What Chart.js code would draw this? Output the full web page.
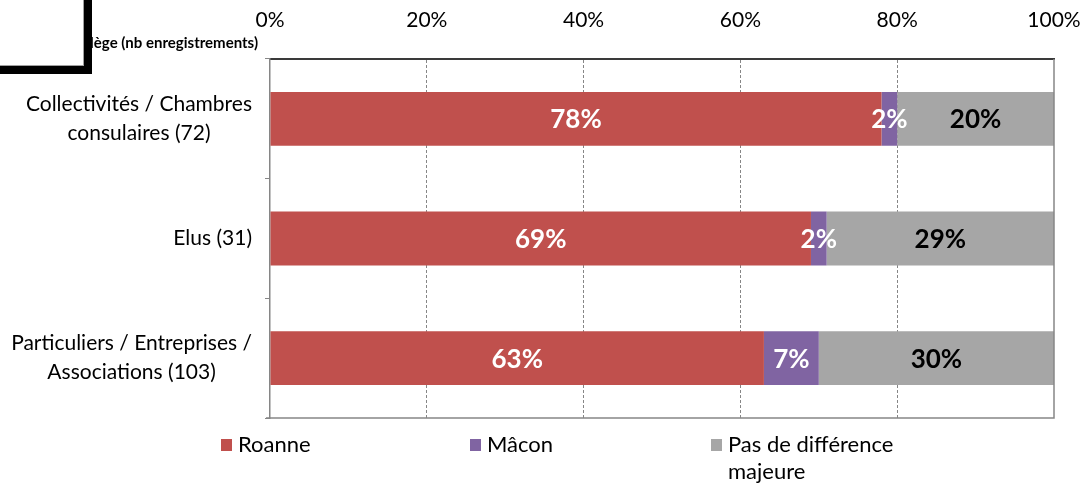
<!DOCTYPE html>
<html>
<head>
<meta charset="utf-8">
<script src="https://cdn.jsdelivr.net/npm/chart.js@4/dist/chart.umd.min.js"></script>
<style>
  html, body { margin: 0; padding: 0; background: #fff; }
</style>
</head>
<body>
<canvas id="chart_college" width="1084" height="483"></canvas>
<script>
const categories = [
    ['Collectivités / Chambres', 'consulaires (72)'],
    ['Elus (31)'],
    ['Particuliers / Entreprises /', 'Associations (103)']
];
const roanne = [78, 69, 63];
const macon = [2, 2, 7];
const pasDeDifference = [20, 29, 30];
const seriesNames = ['Roanne', 'Mâcon', ['Pas de différence', 'majeure']];
const titleText = 'Collège (nb enregistrements)';

const FONT = 'Lato';
const colors = ['#C0504D', '#8064A2', '#A6A6A6'];
const labelColors = ['#fff', '#fff', '#000'];
const frameColor = '#868686';

// category labels, values on the bars, legend and the boxed corner
const decorations = {
    id: 'decorations',
    afterDraw(chart) {
        const ctx = chart.ctx;
        const area = chart.chartArea;
        const yScale = chart.scales.y;

        // right and bottom edges of the plot area
        ctx.save();
        ctx.strokeStyle = frameColor;
        ctx.lineWidth = 1.5;
        ctx.beginPath();
        ctx.moveTo(area.right, area.top);
        ctx.lineTo(area.right, area.bottom);
        ctx.lineTo(area.left - 4, area.bottom);
        ctx.stroke();
        ctx.restore();

        // category labels: block right aligned, lines centred in the block
        ctx.save();
        ctx.font = '21px ' + FONT;
        ctx.fillStyle = '#000';
        ctx.textAlign = 'center';
        ctx.textBaseline = 'middle';
        const lineH = 29;
        categories.forEach((lines, i) => {
            const yc = yScale.getPixelForValue(i);
            const w = Math.max(...lines.map(l => ctx.measureText(l).width));
            const xc = area.left - 18 - w / 2;
            lines.forEach((l, j) => {
                ctx.fillText(l, xc, yc + (j - (lines.length - 1) / 2) * lineH);
            });
        });
        ctx.restore();

        // legend
        ctx.save();
        ctx.font = '22px ' + FONT;
        ctx.textBaseline = 'middle';
        ctx.textAlign = 'left';
        const legendX = [221, 470, 711];
        const legendY = 445;
        seriesNames.forEach((name, i) => {
            ctx.fillStyle = colors[i];
            ctx.fillRect(legendX[i], legendY - 6, 11, 12);
            ctx.fillStyle = '#000';
            const lines = Array.isArray(name) ? name : [name];
            lines.forEach((l, j) => ctx.fillText(l, legendX[i] + 17, legendY + j * 27));
        });
        ctx.restore();

        // title text partly covered by the shadowed box
        ctx.save();
        ctx.font = 'bold 15px ' + FONT;
        ctx.fillStyle = '#000';
        ctx.textAlign = 'right';
        ctx.textBaseline = 'middle';
        ctx.fillText(titleText, 258, 43);
        ctx.fillStyle = '#000';
        ctx.fillRect(0, 0, 92, 74);
        ctx.fillStyle = '#fff';
        ctx.fillRect(0, 0, 84, 66);
        ctx.strokeStyle = '#a0a0a0';
        ctx.lineWidth = 1;
        ctx.strokeRect(-1, -1, 84.5, 66.5);
        ctx.restore();
    },
    afterDatasetsDraw(chart) {
        const ctx = chart.ctx;
        ctx.save();
        ctx.font = 'bold 26px ' + FONT;
        ctx.textAlign = 'center';
        ctx.textBaseline = 'middle';
        chart.data.datasets.forEach((ds, di) => {
            chart.getDatasetMeta(di).data.forEach((bar, i) => {
                const p = bar.getCenterPoint();
                ctx.fillStyle = labelColors[di];
                ctx.fillText(ds.data[i] + '%', p.x, p.y + 1);
            });
        });
        ctx.restore();
    }
};

const ctx1 = document.getElementById('chart_college').getContext('2d');

const chart_college = new Chart(ctx1, {
    type: 'bar',
    data: {
        labels: categories,
        datasets: [{
            label: 'Roanne',
            data: roanne,
            backgroundColor: colors[0]
        }, {
            label: 'Mâcon',
            data: macon,
            backgroundColor: colors[1]
        }, {
            label: 'Pas de différence majeure',
            data: pasDeDifference,
            backgroundColor: colors[2]
        }]
    },
    options: {
        indexAxis: 'y',
        responsive: false,
        animation: false,
        layout: {
            padding: { top: 0, left: 0, right: 30, bottom: 65 }
        },
        datasets: {
            bar: {
                categoryPercentage: 1,
                barPercentage: 0.45
            }
        },
        scales: {
            x: {
                position: 'top',
                stacked: true,
                min: 0,
                max: 100,
                afterFit(scale) {
                    scale.height = 59;
                    scale.paddingLeft = 0;
                    scale.paddingRight = 0;
                },
                ticks: {
                    stepSize: 20,
                    padding: 26,
                    color: '#000',
                    font: { family: FONT, size: 21 },
                    callback: v => v + '%'
                },
                grid: {
                    drawTicks: false,
                    color: c => (c.tick && (c.tick.value === 0 || c.tick.value === 100)) ? 'rgba(0,0,0,0)' : frameColor
                },
                border: {
                    display: true,
                    color: '#3a3a3a',
                    width: 2,
                    dash: [3, 2]
                }
            },
            y: {
                stacked: true,
                afterFit(scale) { scale.width = 270; },
                ticks: { display: false },
                grid: {
                    drawOnChartArea: false,
                    tickLength: 5,
                    color: frameColor
                },
                border: {
                    display: true,
                    color: frameColor,
                    width: 1.5
                }
            }
        },
        plugins: {
            legend: { display: false },
            tooltip: { enabled: false }
        }
    },
    plugins: [decorations]
});
</script>
</body>
</html>
